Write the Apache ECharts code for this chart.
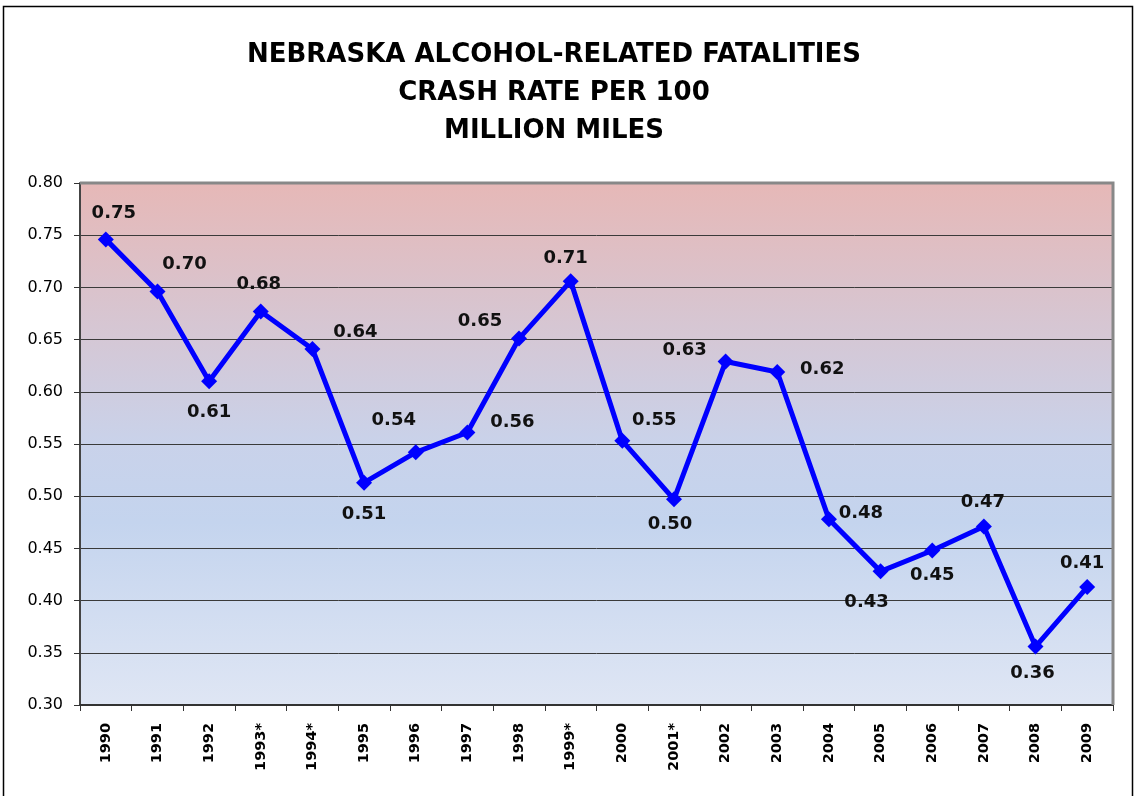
<!DOCTYPE html>
<html>
<head>
<meta charset="utf-8">
<script src="https://cdn.jsdelivr.net/npm/echarts@6/dist/echarts.min.js"></script>
<style>
html,body{margin:0;padding:0;background:#fff;}
#chart{width:1136px;height:796px;}
</style>
</head>
<body>
<div id="chart"></div>
<script>
// ---- data ----
const titleLines = ['NEBRASKA ALCOHOL-RELATED FATALITIES', 'CRASH RATE PER 100', 'MILLION MILES'];
const years = ['1990','1991','1992','1993*','1994*','1995','1996','1997','1998','1999*','2000','2001*','2002','2003','2004','2005','2006','2007','2008','2009'];
const rates = [0.746,0.696,0.610,0.677,0.641,0.513,0.542,0.561,0.651,0.706,0.553,0.497,0.629,0.619,0.478,0.428,0.448,0.471,0.356,0.413];
const yTicks = [0.30,0.35,0.40,0.45,0.50,0.55,0.60,0.65,0.70,0.75,0.80];

// ---- label placement (style) ----
const labelOffsets = [[8,-26],[27,-27],[0,31],[-2,-27],[43,-17],[0,32],[-22,-32],[45,-10],[-39,-17],[-5,-23],
                      [32,-21],[-4,25],[-41,-11],[45,-3],[32,-6],[-14,31],[0,25],[-1,-24],[-3,27],[-5,-24]];

const chart = echarts.init(document.getElementById('chart'));
const seriesData = rates.map((v, i) => ({
  value: v,
  label: { position: 'inside', offset: labelOffsets[i] }
}));

chart.setOption({
  animation: false,
  title: {
    text: titleLines.join('\n'),
    left: 549, top: 31, textAlign: 'center',
    textStyle: { fontFamily: 'DejaVu Sans', fontWeight: 'bold', fontSize: 26, lineHeight: 38, color: '#000' }
  },
  grid: {
    left: 80, right: 23, top: 183, bottom: 91,
    show: true,
    borderWidth: 0,
    backgroundColor: new echarts.graphic.LinearGradient(0, 0, 0, 1, [
      { offset: 0, color: '#e6b8b7' },
      { offset: 0.5, color: '#c9d2ea' },
      { offset: 0.65, color: '#c4d4ee' },
      { offset: 1, color: '#dfe6f4' }
    ])
  },
  xAxis: {
    type: 'category', data: years, boundaryGap: true,
    axisLine: { show: true, lineStyle: { color: '#333', width: 2 } },
    axisTick: { show: true, length: 6, lineStyle: { color: '#333' } },
    axisLabel: { rotate: 90, margin: 18, fontFamily: 'DejaVu Sans', fontWeight: 'bold', fontSize: 14.5, color: '#000' },
    splitLine: { show: false }
  },
  yAxis: {
    type: 'value', min: 0.30, max: 0.80, interval: 0.05,
    axisLine: { show: true, lineStyle: { color: '#444', width: 2 } },
    axisTick: { show: true, length: 6, lineStyle: { color: '#333' } },
    axisLabel: { margin: 17, fontFamily: 'DejaVu Sans', fontSize: 16, color: '#000',
      formatter: v => { const t = yTicks.find(x => Math.abs(x - v) < 1e-6); return (t !== undefined ? t : v).toFixed(2); } },
    splitLine: { show: true, lineStyle: { color: '#3a3a3a', width: 1 } }
  },
  series: [{
    type: 'line',
    data: seriesData,
    symbol: 'diamond', symbolSize: 16,
    lineStyle: { color: '#0000ff', width: 5 },
    itemStyle: { color: '#0000ff' },
    label: {
      show: true, fontFamily: 'DejaVu Sans', fontWeight: 'bold', fontSize: 18, color: '#111',
      formatter: p => p.value.toFixed(2)
    },
    z: 5
  }]
});

const rect = chart.getModel().getComponent('grid', 0).coordinateSystem.getRect();
chart.setOption({
  graphic: [{
    type: 'rect', shape: { x: 3.5, y: 6.5, width: 1129, height: 800 },
    style: { fill: 'none', stroke: '#000', lineWidth: 1.5 }, silent: true
  }, {
    type: 'polyline', shape: { points: [[rect.x, rect.y], [rect.x + rect.width, rect.y], [rect.x + rect.width, rect.y + rect.height]] },
    style: { fill: 'none', stroke: '#888', lineWidth: 3 }, silent: true, z: 3
  }]
});
</script>
</body>
</html>
